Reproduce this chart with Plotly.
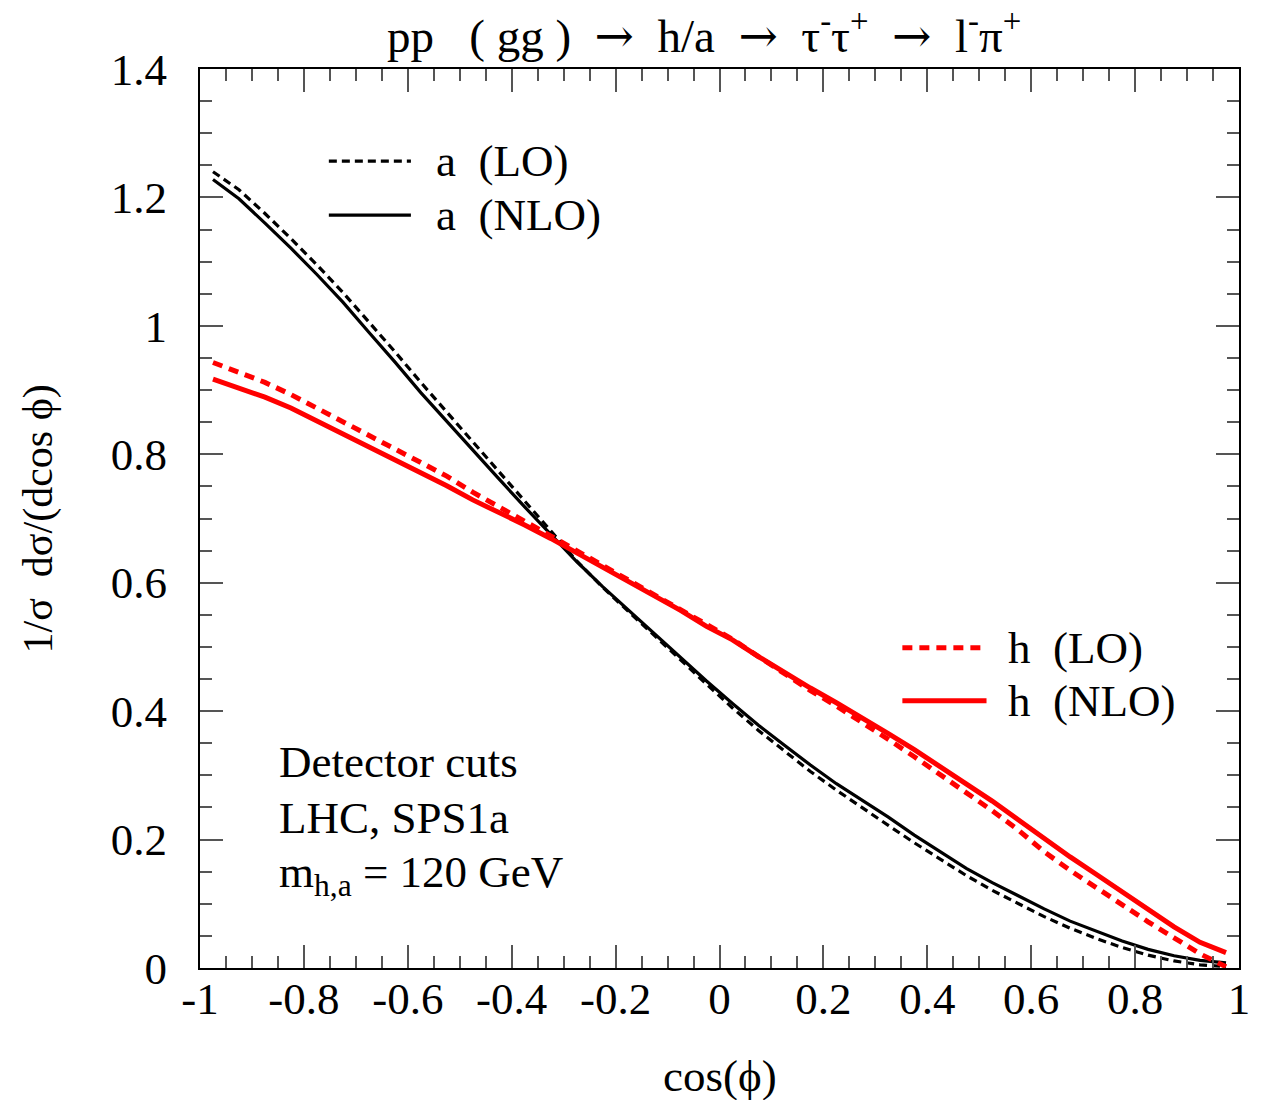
import plotly.graph_objects as go

# bin centres in cos(phi)
cos_phi = [-0.975 + 0.05 * k for k in range(40)]

a_lo = [1.240, 1.212, 1.175, 1.136, 1.095, 1.052, 1.006, 0.960, 0.912, 0.866,
        0.820, 0.774, 0.728, 0.681, 0.634, 0.593, 0.555, 0.518, 0.480, 0.442,
        0.405, 0.370, 0.338, 0.306, 0.277, 0.249, 0.222, 0.195, 0.169, 0.144,
        0.121, 0.100, 0.080, 0.062, 0.046, 0.032, 0.020, 0.011, 0.005, 0.002]
a_nlo = [1.228, 1.198, 1.160, 1.121, 1.080, 1.037, 0.990, 0.944, 0.896, 0.851,
         0.806, 0.762, 0.718, 0.676, 0.633, 0.594, 0.557, 0.521, 0.484, 0.447,
         0.412, 0.378, 0.347, 0.316, 0.287, 0.261, 0.235, 0.207, 0.181, 0.155,
         0.133, 0.112, 0.092, 0.073, 0.058, 0.042, 0.029, 0.019, 0.012, 0.008]
h_lo = [0.943, 0.928, 0.912, 0.893, 0.872, 0.851, 0.830, 0.809, 0.788, 0.766,
        0.741, 0.719, 0.696, 0.673, 0.650, 0.627, 0.605, 0.583, 0.560, 0.535,
        0.512, 0.485, 0.458, 0.432, 0.408, 0.383, 0.356, 0.329, 0.301, 0.274,
        0.245, 0.215, 0.181, 0.152, 0.125, 0.097, 0.072, 0.047, 0.022, 0.002]
h_nlo = [0.917, 0.904, 0.889, 0.872, 0.852, 0.833, 0.813, 0.793, 0.772, 0.751,
         0.729, 0.710, 0.690, 0.669, 0.647, 0.624, 0.602, 0.580, 0.557, 0.532,
         0.511, 0.485, 0.460, 0.436, 0.413, 0.390, 0.365, 0.340, 0.314, 0.288,
         0.260, 0.231, 0.201, 0.173, 0.146, 0.118, 0.091, 0.064, 0.040, 0.024]

x_ticks = [-1, -0.8, -0.6, -0.4, -0.2, 0, 0.2, 0.4, 0.6, 0.8, 1]
x_ticktext = ["-1", "-0.8", "-0.6", "-0.4", "-0.2", "0", "0.2", "0.4", "0.6", "0.8", "1"]
y_ticks = [0, 0.2, 0.4, 0.6, 0.8, 1.0, 1.2, 1.4]
y_ticktext = ["0", "0.2", "0.4", "0.6", "0.8", "1", "1.2", "1.4"]

SERIF = "Liberation Serif, Times New Roman, serif"
RED = "#ff0000"
FS = 45

fig = go.Figure()
fig.add_trace(go.Scatter(x=cos_phi, y=a_lo, mode="lines",
                         line=dict(color="black", width=3.2, dash="8px,5px")))
fig.add_trace(go.Scatter(x=cos_phi, y=a_nlo, mode="lines",
                         line=dict(color="black", width=3.2)))
fig.add_trace(go.Scatter(x=cos_phi, y=h_lo, mode="lines",
                         line=dict(color=RED, width=5, dash="10px,7px")))
fig.add_trace(go.Scatter(x=cos_phi, y=h_nlo, mode="lines",
                         line=dict(color=RED, width=5)))

axis_common = dict(
    showgrid=False, zeroline=False, showline=True, linecolor="black", linewidth=2,
    mirror="ticks", ticks="inside", ticklen=23, tickwidth=1.5, tickcolor="#555",
    tickfont=dict(family=SERIF, size=FS, color="black"),
)
fig.update_xaxes(range=[-1, 1], tickvals=x_ticks, ticktext=x_ticktext,
                 ticklabelstandoff=-10,
                 minor=dict(dtick=0.05, tick0=-1, ticks="inside", ticklen=12,
                            tickwidth=1.5, tickcolor="#555"),
                 **axis_common)
fig.update_yaxes(range=[0, 1.4], tickvals=y_ticks, ticktext=y_ticktext,
                 ticklabelstandoff=22,
                 minor=dict(dtick=0.05, tick0=0, ticks="inside", ticklen=12,
                            tickwidth=1.5, tickcolor="#555"),
                 **axis_common)

annotations = []
shapes = []

# title and axis titles
nb = "\u00a0"
arrow = "<span style=\"font-family:'DejaVu Serif'\">→</span>"
sep = nb + nb + arrow + nb + nb
title = (f"pp{nb}{nb}{nb}({nb}gg{nb}){sep}h/a{sep}"
         f"τ<sup>-</sup>τ<sup>+</sup>{sep}l<sup>-</sup>π<sup>+</sup>")
annotations.append(dict(text=title, xref="paper", yref="paper", x=0.485, y=1.005,
                        xanchor="center", yanchor="bottom", showarrow=False,
                        font=dict(family=SERIF, size=47, color="black")))
annotations.append(dict(text="cos(ϕ)", xref="paper", yref="paper", x=0.5, y=-0.12,
                        xanchor="center", yanchor="middle", showarrow=False,
                        font=dict(family=SERIF, size=FS, color="black")))
annotations.append(dict(text=f"1/σ{nb}{nb}dσ/(dcos{nb}ϕ)", xref="paper", yref="paper",
                        x=-0.155, y=0.5, xanchor="center", yanchor="middle",
                        textangle=-90, showarrow=False,
                        font=dict(family=SERIF, size=42, color="black")))

# legend entries
legend_items = [
    ("a" + nb + nb + "(LO)", "black", 3.2, "8px,5px", 0.124, 0.203, 0.225, 0.8976),
    ("a" + nb + nb + "(NLO)", "black", 3.2, "solid", 0.124, 0.203, 0.225, 0.8374),
    ("h" + nb + nb + "(LO)", RED, 5, "10px,7px", 0.676, 0.757, 0.776, 0.3563),
    ("h" + nb + nb + "(NLO)", RED, 5, "solid", 0.676, 0.757, 0.776, 0.2973),
]
for label, color, width, dash, x0, x1, xt, yy in legend_items:
    shapes.append(dict(type="line", xref="paper", yref="paper", x0=x0, x1=x1,
                       y0=yy, y1=yy, line=dict(color=color, width=width, dash=dash)))
    annotations.append(dict(text=label, xref="paper", yref="paper", x=xt, y=yy,
                            xanchor="left", yanchor="middle", showarrow=False,
                            font=dict(family=SERIF, size=FS, color="black")))

# run conditions
for text, yy in [("Detector cuts", 0.229), ("LHC, SPS1a", 0.167),
                 (f"m<sub>h,a</sub>{nb}={nb}120{nb}GeV", 0.103)]:
    annotations.append(dict(text=text, xref="paper", yref="paper", x=0.074, y=yy,
                            xanchor="left", yanchor="middle", showarrow=False,
                            font=dict(family=SERIF, size=FS, color="black")))

fig.update_layout(
    width=1262, height=1100,
    margin=dict(l=200, r=21, t=69, b=132),
    paper_bgcolor="white", plot_bgcolor="white",
    showlegend=False,
    annotations=annotations, shapes=shapes,
)

fig.write_html("out.html")
